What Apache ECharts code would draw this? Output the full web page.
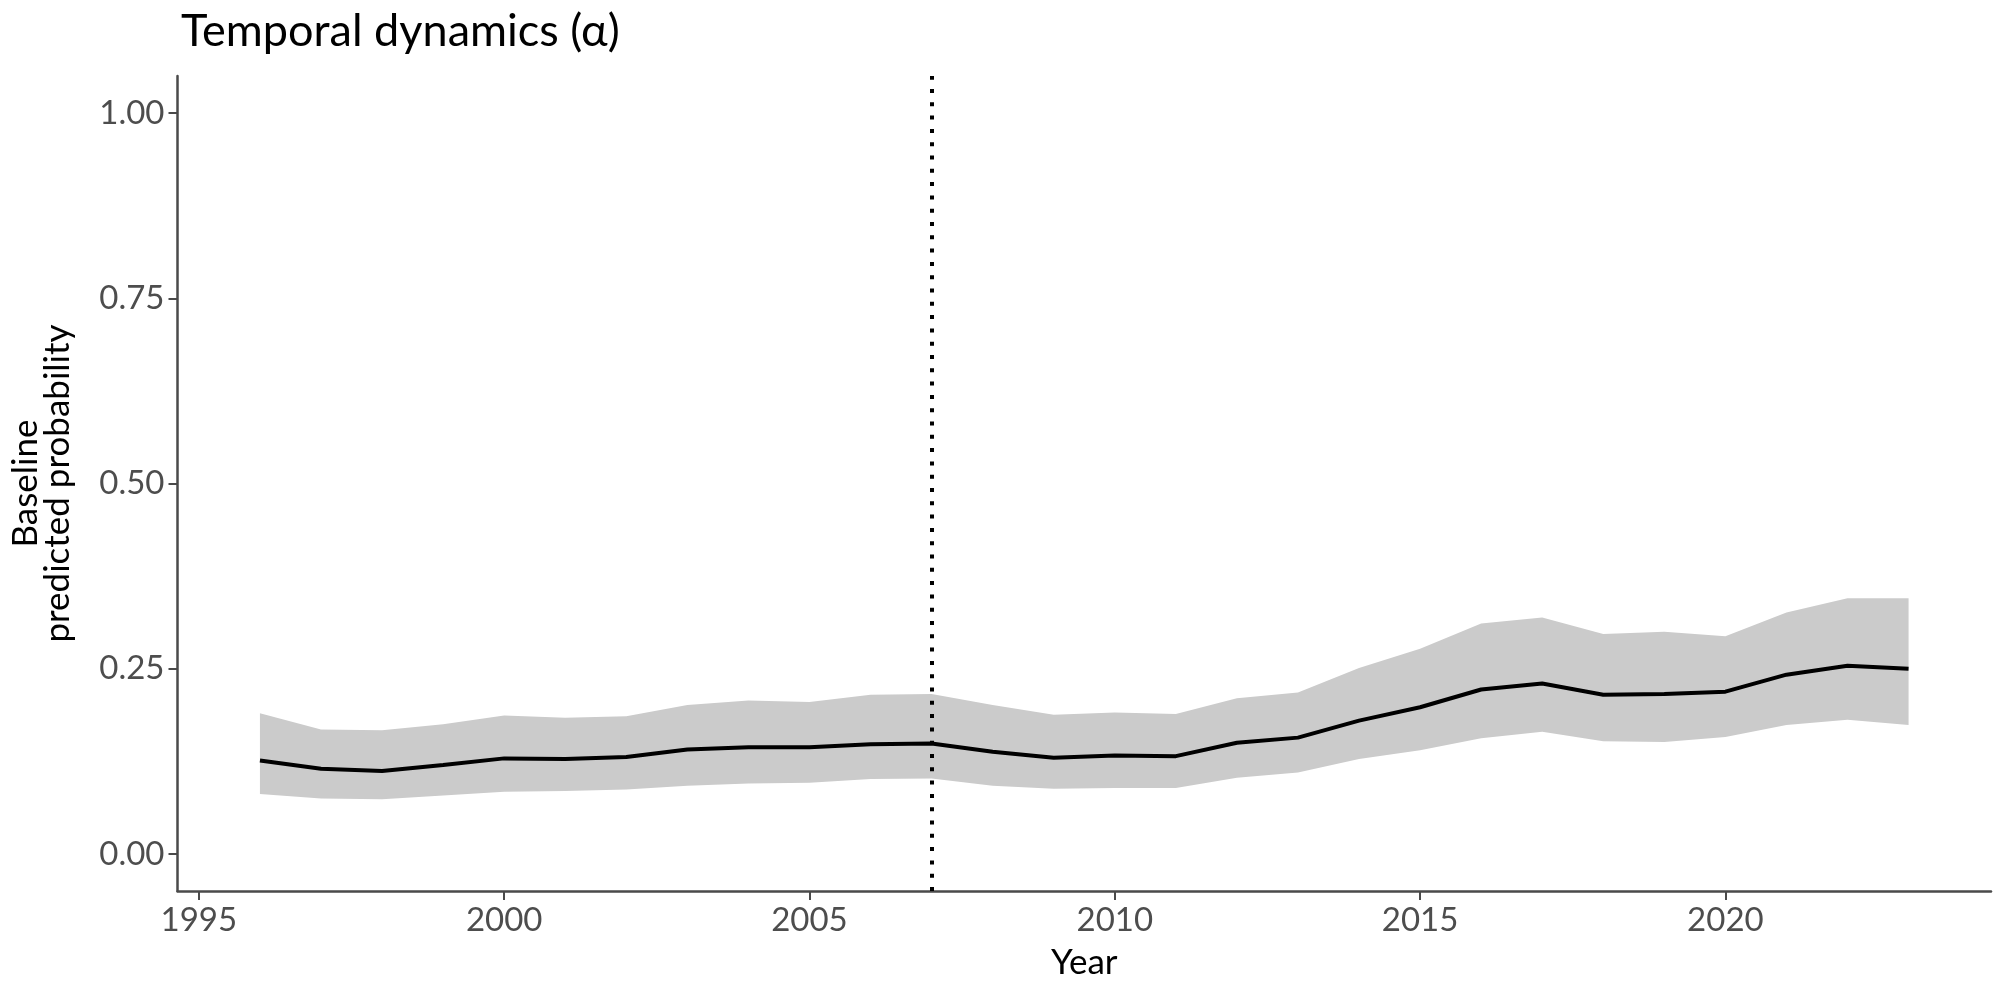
<!DOCTYPE html>
<html>
<head>
<meta charset="utf-8">
<script src="https://cdn.jsdelivr.net/npm/echarts@6/dist/echarts.min.js"></script>
<style>
html,body{margin:0;padding:0;background:#fff;}
#chart{width:2000px;height:985px;}
</style>
</head>
<body>
<div id="chart"></div>
<script>
const years = [1996,1997,1998,1999,2000,2001,2002,2003,2004,2005,2006,2007,2008,2009,2010,2011,2012,2013,2014,2015,2016,2017,2018,2019,2020,2021,2022,2023];
const meanProb = [0.126,0.115,0.112,0.120,0.129,0.128,0.131,0.141,0.144,0.144,0.148,0.149,0.138,0.130,0.133,0.132,0.150,0.157,0.180,0.198,0.222,0.230,0.215,0.216,0.219,0.242,0.254,0.250];
const upperProb = [0.190,0.168,0.167,0.175,0.187,0.184,0.186,0.201,0.207,0.205,0.215,0.216,0.201,0.188,0.191,0.189,0.210,0.218,0.251,0.277,0.311,0.319,0.297,0.300,0.294,0.326,0.345,0.345];
const lowerProb = [0.081,0.075,0.074,0.079,0.084,0.085,0.087,0.092,0.095,0.096,0.101,0.102,0.092,0.088,0.089,0.089,0.103,0.110,0.128,0.140,0.156,0.165,0.152,0.151,0.158,0.174,0.181,0.174];
const xTicks = [1995,2000,2005,2010,2015,2020];
const yTicks = [0,0.25,0.5,0.75,1];
const refYear = 2007;
const titleText = 'Temporal dynamics (α)';
const xName = 'Year';
const yName = 'Baseline\npredicted probability';

const FONT = 'Lato';
const chart = echarts.init(document.getElementById('chart'), null, {renderer:'canvas'});

const bandData = years.map((y,i)=>[y, lowerProb[i], upperProb[i]]);
const meanData = years.map((y,i)=>[y, meanProb[i]]);

const axisCommon = {
  axisLine:{show:true, onZero:false, lineStyle:{color:'#4a4a4a', width:2.5}},
  axisTick:{show:true, length:9, lineStyle:{color:'#4a4a4a', width:2}},
  splitLine:{show:false}
};

chart.setOption({
  animation:false,
  backgroundColor:'#ffffff',
  title:{
    text:titleText, left:176, top:4,
    textStyle:{fontFamily:FONT, fontSize:45, fontWeight:'normal', color:'#000'}
  },
  grid:{left:174, right:9, top:76, bottom:92, containLabel:false},
  xAxis:Object.assign({}, axisCommon, {
    type:'value', min:1994.65, max:2024.35,
    axisTick:Object.assign({}, axisCommon.axisTick, {customValues:xTicks}),
    axisLabel:{customValues:xTicks, margin:13, fontFamily:FONT, fontSize:33, color:'#4d4d4d', formatter:v=>String(v)},
    name:xName, nameLocation:'middle', nameGap:54,
    nameTextStyle:{fontFamily:FONT, fontSize:35, color:'#000'}
  }),
  yAxis:Object.assign({}, axisCommon, {
    type:'value', min:-0.05, max:1.05,
    axisTick:Object.assign({}, axisCommon.axisTick, {customValues:yTicks}),
    axisLabel:{customValues:yTicks, margin:13, fontFamily:FONT, fontSize:33, color:'#4d4d4d', formatter:v=>v.toFixed(2)},
    name:yName, nameLocation:'middle', nameRotate:90, nameGap:104,
    nameTextStyle:{fontFamily:FONT, fontSize:35, color:'#000', lineHeight:32, align:'center'}
  }),
  series:[
    {
      type:'custom', data:bandData, encode:{x:0, y:[1,2]}, silent:true, z:1,
      renderItem:function(params, api){
        if(params.dataIndex !== 0) return null;
        const pts = [];
        for(let i=0;i<years.length;i++) pts.push(api.coord([years[i], upperProb[i]]));
        for(let i=years.length-1;i>=0;i--) pts.push(api.coord([years[i], lowerProb[i]]));
        return {type:'polygon', shape:{points:pts}, style:{fill:'#cbcbcb', stroke:null}};
      }
    },
    {
      type:'line', data:meanData, symbol:'none', z:3,
      lineStyle:{color:'#000', width:4},
      markLine:{
        silent:true, symbol:['none','none'], label:{show:false},
        lineStyle:{color:'#000', width:4, type:[4,9.3], cap:'butt'},
        data:[{xAxis:refYear}]
      }
    }
  ]
});
</script>
</body>
</html>
